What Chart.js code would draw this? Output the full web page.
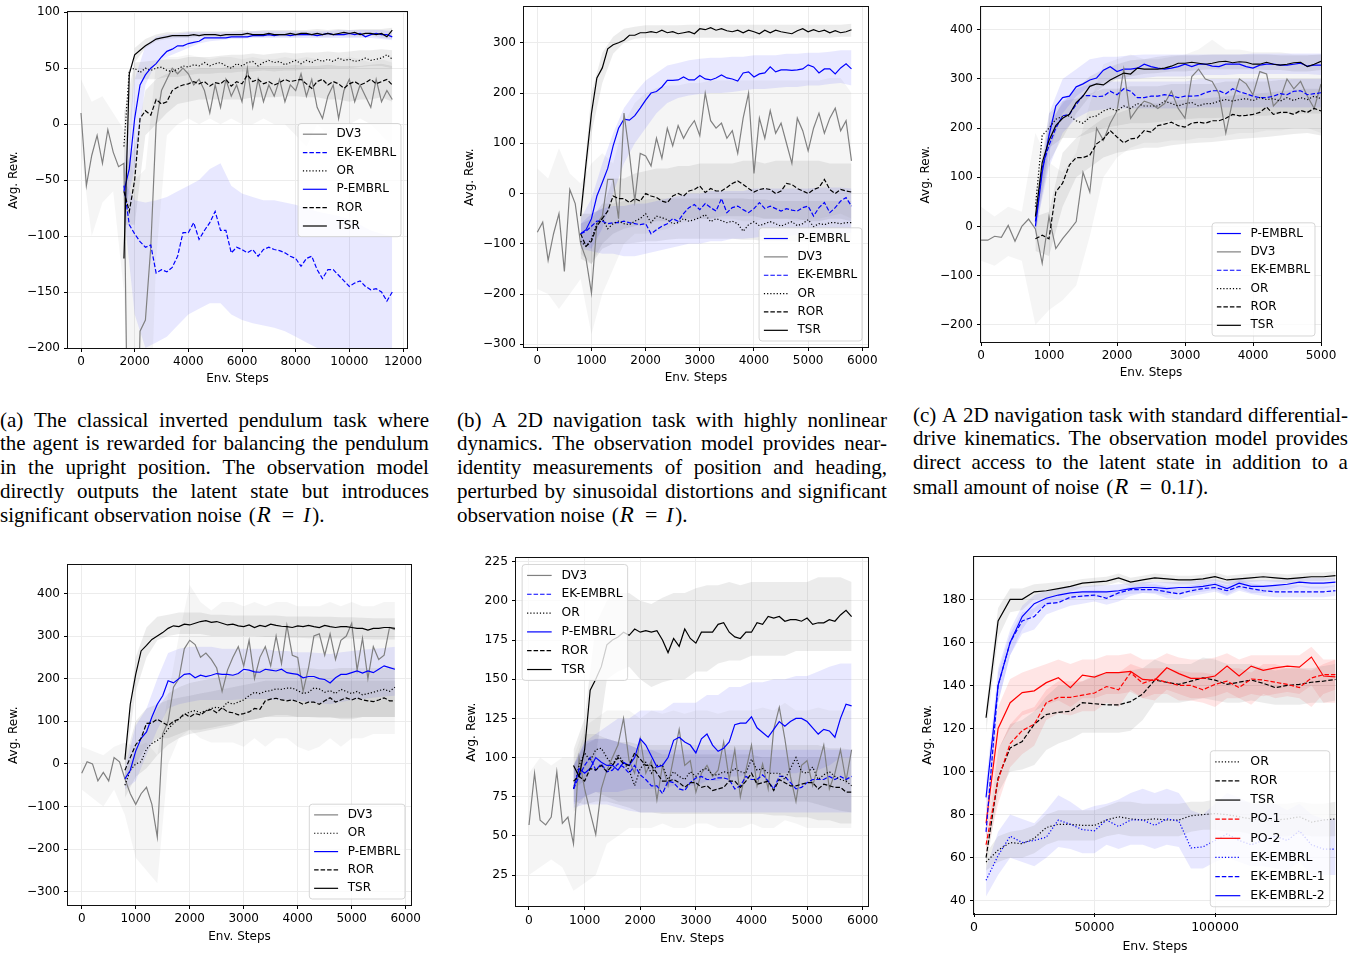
<!DOCTYPE html>
<html>
<head>
<meta charset="utf-8">
<script src="https://cdn.jsdelivr.net/npm/chart.js@4.4.1/dist/chart.umd.min.js"></script>
<style>
  html, body { margin: 0; padding: 0; background: #fff; overflow: hidden; }
  body { width: 1351px; height: 954px; position: relative; }
  canvas { position: absolute; }
  .cap { position: absolute; font-family: "Liberation Serif", "Times New Roman", serif; font-size: 21px; color: #000; }
  .cap div { height: 23.7px; line-height: 23.7px; white-space: nowrap; }
  .cap .just { display: flex; justify-content: space-between; }
  .m { font-size: 21px; margin-left: 2px; }
  .m i.r { font-size: 23px; margin: 0 1px 0 1px; }
  .m .eq { font-size: 22px; margin: 0 9px 0 10px; }
  .m i.i { margin-right: 2px; }
</style>
</head>
<body>
<script>
// ---------- x grids ----------
const aSteps = [0,200,400,600,800,1000,1200,1400,1600,1800,2000,2200,2400,2600,2800,3000,3200,3400,3600,3800,4000,4200,4400,4600,4800,5000,5200,5400,5600,5800,6000,6200,6400,6600,6800,7000,7200,7400,7600,7800,8000,8200,8400,8600,8800,9000,9200,9400,9600,9800,10000,10200,10400,10600,10800,11000,11200,11400,11600];
const aBandSteps = [0,400,800,1200,1600,2000,2400,2800,3200,3600,4000,4400,4800,5200,5600,6000,6400,6800,7200,7600,8000,8400,8800,9200,9600,10000,10400,10800,11200,11600];
const steps100 = [0,100,200,300,400,500,600,700,800,900,1000,1100,1200,1300,1400,1500,1600,1700,1800,1900,2000,2100,2200,2300,2400,2500,2600,2700,2800,2900,3000,3100,3200,3300,3400,3500,3600,3700,3800,3900,4000,4100,4200,4300,4400,4500,4600,4700,4800,4900,5000,5100,5200,5300,5400,5500,5600,5700,5800];
const steps200 = [0,200,400,600,800,1000,1200,1400,1600,1800,2000,2200,2400,2600,2800,3000,3200,3400,3600,3800,4000,4200,4400,4600,4800,5000,5200,5400,5600,5800];
const fSteps = [5000,10000,15000,20000,25000,30000,35000,40000,45000,50000,55000,60000,65000,70000,75000,80000,85000,90000,95000,100000,105000,110000,115000,120000,125000,130000,135000,140000,145000,150000];

// ---------- tick labels ----------
const aTicksX = [0, 2000, 4000, 6000, 8000, 10000, 12000];
const aTicksY = [-200, -150, -100, -50, 0, 50, 100];
const bTicksX = [0, 1000, 2000, 3000, 4000, 5000, 6000];
const bTicksY = [-300, -200, -100, 0, 100, 200, 300];
const cTicksX = [0, 1000, 2000, 3000, 4000, 5000];
const cTicksY = [-200, -100, 0, 100, 200, 300, 400];
const dTicksY = [-300, -200, -100, 0, 100, 200, 300, 400];
const eTicksY = [25, 50, 75, 100, 125, 150, 175, 200, 225];
const fTicksX = [0, 50000, 100000];
const fTicksY = [40, 60, 80, 100, 120, 140, 160, 180];

// ---------- (a) inverted pendulum ----------
const aDV3 = [10,-55,-28,-10,-35,-5,-25,-38,-35,-400,-400,-185,-175,-110,0,30,40,50,45,50,45,35,40,30,10,35,15,40,25,35,20,50,15,40,20,35,25,40,20,35,30,45,25,40,15,5,25,35,5,30,40,20,35,25,15,40,20,30,22];
const aOR = [null,null,null,null,null,null,null,null,-20,48,50,46,50,48,50,51,48,47,49,52,51,53,52,55,52,54,55,52,50,54,52,55,56,52,55,57,55,56,53,55,57,54,57,55,58,56,58,56,59,57,58,56,57,59,57,58,59,62,58];
const aROR = [null,null,null,null,null,null,null,null,-60,-78,-50,5,12,8,22,18,20,30,33,35,36,38,36,38,34,37,36,40,34,38,36,44,38,40,36,38,35,37,40,38,39,40,36,32,38,40,35,38,36,32,36,38,35,37,40,36,38,40,35];
const aTSR = [null,null,null,null,null,null,null,null,-120,45,62,66,70,73,76,77,78,79,79,79,79,80,79,80,80,80,79,80,80,80,80,81,80,80,80,81,80,80,80,81,80,81,81,80,81,80,81,80,81,82,81,82,80,81,81,80,81,78,84];
const aP = [null,null,null,null,null,null,null,null,-60,-40,5,35,44,50,54,60,65,67,70,70,72,73,74,77,77,77,77,77,78,78,78,78,79,79,79,80,79,80,80,79,80,80,80,80,79,80,81,80,80,80,81,80,81,78,80,81,80,80,78];
const aEK = [null,null,null,null,null,null,null,null,-55,-90,-98,-105,-110,-108,-133,-130,-132,-128,-118,-97,-97,-88,-103,-95,-88,-78,-95,-95,-115,-110,-112,-115,-112,-118,-112,-110,-112,-113,-115,-118,-120,-127,-120,-118,-130,-138,-130,-130,-135,-140,-145,-142,-140,-145,-148,-147,-150,-158,-150];
const aDV3Hi = [40,20,25,10,-5,-50,-40,55,60,60,62,60,58,60,60,58,60,58,58,60,58,60,58,55,58,60,58,55,58,55];
const aDV3Lo = [-25,-100,-70,-60,-150,-400,-400,-120,-10,0,5,0,5,0,5,0,0,5,0,0,-10,-20,0,-10,-5,0,5,0,-10,-20];
const aORHi = [null,null,null,null,10,55,56,57,58,58,60,60,60,61,62,62,63,62,63,64,63,64,64,65,64,65,66,66,67,66];
const aORLo = [null,null,null,null,-50,40,40,40,42,42,44,45,45,46,46,47,47,48,47,48,48,49,49,50,50,50,51,52,52,50];
const aRORHi = [null,null,null,null,-40,-20,30,40,45,48,48,50,50,50,52,52,52,52,52,52,53,52,52,53,52,52,52,53,54,52];
const aRORLo = [null,null,null,null,-90,-90,-10,0,10,18,20,22,22,22,22,22,24,24,24,25,25,24,24,22,22,20,22,22,24,20];
const aTSRHi = [null,null,null,null,-110,68,76,80,82,82,83,83,83,83,83,84,83,84,84,84,84,84,85,84,85,84,85,85,85,86];
const aTSRLo = [null,null,null,null,-130,55,68,74,76,77,77,78,78,78,78,78,78,78,78,78,78,79,78,78,79,78,78,79,77,76];
const aPHi = [null,null,null,null,-40,40,70,78,80,81,82,82,82,82,82,82,83,83,83,83,83,83,83,83,84,84,84,84,84,83];
const aPLo = [null,null,null,null,-80,-40,35,55,60,64,68,72,74,75,76,76,77,77,77,77,77,77,77,77,77,77,77,77,76,75];
const aEKHi = [null,null,null,null,-50,-68,-70,-68,-65,-60,-55,-50,-40,-35,-55,-62,-65,-68,-68,-70,-72,-75,-78,-80,-82,-85,-90,-95,-98,-100];
const aEKLo = [null,null,null,null,-80,-170,-200,-195,-190,-180,-170,-165,-160,-160,-170,-175,-178,-180,-182,-185,-190,-195,-200,-205,-210,-212,-215,-218,-220,-220];

// ---------- (b) nonlinear navigation ----------
const bDV3 = [-77,-57,-133,-80,-40,-155,8,-20,-100,-130,-198,-60,-45,28,28,-50,160,80,-15,80,75,55,110,70,130,95,135,110,130,145,115,200,145,130,140,110,125,80,150,200,40,150,110,165,120,140,100,60,150,125,85,130,160,120,150,170,125,145,65];
const bOR = [null,null,null,null,null,null,null,null,-95,-105,-90,-60,-50,-70,-60,-55,-60,-62,-55,-50,-40,-58,-45,-48,-52,-60,-58,-50,-55,-52,-48,-42,-56,-50,-54,-58,-55,-60,-75,-62,-56,-64,-60,-56,-60,-65,-60,-56,-64,-60,-52,-66,-60,-62,-58,-58,-60,-58,-58];
const bROR = [null,null,null,null,null,null,null,null,-80,-105,-95,-65,-50,-35,-5,-10,-10,-18,-10,-15,0,-5,-8,-15,-18,-5,0,-5,5,8,15,2,10,5,5,12,20,25,18,10,3,8,10,8,0,5,20,18,10,5,0,8,12,28,8,0,8,5,3];
const bEK = [null,null,null,null,null,null,null,null,-80,-75,-65,-55,-55,-60,-58,-58,-55,-58,-60,-62,-60,-80,-72,-65,-60,-50,-55,-40,-28,-22,-32,-20,-28,-35,-10,-38,-28,-25,-32,-38,-30,-18,-30,-25,-30,-35,-30,-33,-35,-28,-25,-45,-28,-18,-38,-28,-15,-8,-25];
const bP = [null,null,null,null,null,null,null,null,-80,-72,-50,-5,22,50,95,130,148,146,155,170,186,200,203,212,225,225,226,232,226,226,235,228,226,230,236,230,228,224,240,242,232,238,240,252,242,246,246,245,246,248,256,252,240,248,248,238,250,258,248];
const bTSR = [null,null,null,null,null,null,null,null,-45,60,160,230,250,288,296,300,305,315,315,320,320,322,320,325,320,322,318,320,322,318,328,326,330,325,328,324,322,325,320,325,322,318,325,320,325,322,320,318,324,328,322,326,322,325,320,324,320,322,326];
const bDV3Hi = [50,30,90,40,20,60,80,60,140,180,200,210,215,215,220,220,225,225,225,225,225,225,225,225,225,225,225,230,230,200];
const bDV3Lo = [-190,-200,-230,-200,-170,-280,-200,-150,-100,-80,-80,-75,-70,-60,-55,-50,-50,-50,-50,-55,-55,-50,-50,-50,-55,-50,-50,-45,-40,-50];
const bORHi = [null,null,null,null,-60,-50,-20,-20,-15,-15,-12,-10,-10,-10,-10,-10,-10,-10,-10,-10,-12,-12,-15,-15,-15,-15,-15,-15,-15,-15];
const bORLo = [null,null,null,null,-130,-140,-110,-100,-100,-98,-95,-95,-92,-90,-90,-90,-90,-90,-90,-92,-92,-95,-95,-95,-95,-95,-95,-95,-95,-95];
const bRORHi = [null,null,null,null,-40,-40,-30,30,30,40,45,50,50,55,55,60,60,60,60,65,65,60,65,65,65,65,65,60,60,60];
const bRORLo = [null,null,null,null,-120,-140,-100,-80,-70,-65,-60,-55,-55,-50,-50,-50,-50,-45,-45,-45,-45,-50,-50,-50,-50,-55,-55,-50,-50,-55];
const bEKHi = [null,null,null,null,-60,-40,-30,-25,-25,-20,-20,-15,-10,-5,0,0,5,5,5,5,10,10,10,10,10,10,12,12,12,10];
const bEKLo = [null,null,null,null,-110,-115,-120,-120,-125,-125,-120,-115,-110,-105,-100,-100,-95,-95,-90,-90,-88,-85,-85,-85,-82,-80,-80,-80,-80,-78];
const bPHi = [null,null,null,null,-50,-10,60,120,170,200,225,240,255,260,265,268,270,270,272,272,275,275,275,278,278,280,280,282,285,285];
const bPLo = [null,null,null,null,-100,-110,-70,0,60,100,130,160,180,190,195,198,200,200,202,205,208,208,210,212,212,215,215,218,220,215];
const bTSRHi = [null,null,null,null,-30,200,280,312,328,332,335,335,335,335,336,336,336,336,336,336,336,336,336,336,336,336,336,336,336,338];
const bTSRLo = [null,null,null,null,-60,120,220,278,300,308,310,310,310,310,310,310,310,310,310,310,308,310,310,310,310,310,310,310,312,312];

// ---------- (c) differential drive ----------
const cDV3 = [-28,-28,-20,-22,2,-30,0,15,-5,-75,20,-45,-25,-8,10,110,70,200,175,210,235,320,220,240,255,250,240,250,275,240,220,305,320,300,295,270,190,255,300,290,268,315,310,245,260,300,280,295,265,240,290];
const cOR = [null,null,null,null,null,null,null,null,40,185,200,218,224,225,215,210,222,225,235,240,235,245,240,250,245,245,245,255,250,245,250,252,245,250,250,255,258,255,258,260,256,262,258,260,255,262,256,262,258,265,260];
const cROR = [null,null,null,null,null,null,null,null,-25,-18,-25,70,88,125,140,140,145,168,178,195,182,170,178,180,195,192,205,208,212,205,202,210,212,210,215,215,220,228,225,226,228,232,243,228,232,232,228,236,232,240,235];
const cEK = [null,null,null,null,null,null,null,null,10,120,165,200,225,228,248,266,266,264,265,275,268,280,275,262,262,265,265,268,266,262,265,265,266,272,276,276,270,280,274,270,265,262,262,265,270,268,275,276,268,270,272];
const cP = [null,null,null,null,null,null,null,null,0,110,185,245,262,265,284,290,298,302,318,325,315,320,320,322,330,325,322,320,322,325,330,325,330,330,326,325,330,330,330,325,322,328,330,330,328,328,330,332,326,328,328];
const cTSR = [null,null,null,null,null,null,null,null,20,130,175,205,220,228,252,265,285,290,288,298,305,312,310,322,320,320,320,322,326,332,332,334,332,330,332,335,336,333,335,334,330,330,334,330,328,330,333,334,325,330,336];
const cDV3Hi = [40,20,40,30,190,130,110,150,250,330,340,350,340,340,345,350,360,380,360,360,355,355,355,350,350,350];
const cDV3Lo = [-70,-80,-60,-70,-200,-170,-150,-120,-20,100,140,160,170,170,175,175,180,180,185,190,190,195,195,200,200,190];
const cORHi = [null,null,null,null,60,230,255,260,270,280,280,285,285,285,290,290,290,290,295,295,295,295,298,300,300,300];
const cORLo = [null,null,null,null,0,160,180,180,190,200,205,210,210,212,215,218,220,220,222,225,225,225,228,230,230,230];
const cRORHi = [null,null,null,null,20,30,150,180,200,220,230,240,250,250,255,258,260,262,265,268,270,272,275,278,280,280];
const cRORLo = [null,null,null,null,-50,-60,40,100,120,140,150,155,160,160,165,168,170,172,175,178,180,182,185,188,190,185];
const cEKHi = [null,null,null,null,30,200,255,280,290,295,295,295,295,295,295,295,300,300,300,300,300,300,300,300,300,300];
const cEKLo = [null,null,null,null,-10,120,190,220,235,238,240,240,240,240,240,240,242,242,242,242,242,242,242,242,242,242];
const cPHi = [null,null,null,null,20,230,300,320,340,345,345,348,350,350,350,350,350,350,350,350,352,352,352,352,352,352];
const cPLo = [null,null,null,null,-20,150,230,265,285,295,300,300,302,305,305,305,308,308,308,310,310,310,310,310,310,308];
const cTSRHi = [null,null,null,null,40,210,250,280,305,320,330,338,340,345,348,348,348,350,350,350,350,350,348,348,348,350];
const cTSRLo = [null,null,null,null,0,130,180,230,265,285,300,305,310,312,315,315,318,320,320,320,320,318,318,315,315,318];

// ---------- (d) ----------
const dDV3 = [-22,5,0,-40,-20,-40,15,5,-35,-70,-95,-70,-55,-95,-172,70,100,180,200,270,290,280,250,260,245,225,170,220,250,275,230,290,200,250,275,230,300,235,325,255,250,170,225,300,305,255,305,245,290,300,330,220,295,200,275,245,255,320,315];
const dOR = [null,null,null,null,null,null,null,null,-50,-15,0,5,35,48,55,65,82,95,105,115,122,125,120,125,130,133,130,145,140,145,150,160,168,165,170,172,176,175,178,178,172,165,168,178,176,168,172,165,175,170,165,170,162,165,168,172,175,170,180];
const dROR = [null,null,null,null,null,null,null,null,-15,15,45,60,95,96,105,97,90,100,105,118,110,118,115,124,128,120,132,122,120,115,118,122,130,128,148,152,154,150,148,150,146,140,145,145,140,148,155,145,150,155,150,155,150,148,146,150,155,148,148];
const dP = [null,null,null,null,null,null,null,null,-35,-15,30,60,75,110,140,160,195,190,200,210,212,202,208,205,208,212,210,210,208,212,222,220,216,215,222,220,218,222,214,212,210,202,205,205,200,198,190,202,210,210,214,218,213,218,214,222,230,226,222];
const dTSR = [null,null,null,null,null,null,null,null,10,140,210,265,278,292,300,308,318,324,322,328,326,330,334,336,332,334,330,326,328,324,322,326,320,325,322,328,325,323,322,320,324,322,325,322,320,325,322,320,322,322,320,318,318,314,318,318,320,320,318];
const dDV3Hi = [40,30,20,40,50,40,50,20,160,300,420,380,360,380,380,370,380,370,380,380,370,370,370,380,370,380,370,370,380,380];
const dDV3Lo = [-60,-80,-100,-60,-120,-220,-250,-280,0,60,80,60,50,50,50,40,60,40,60,60,40,30,40,60,40,60,60,70,70,70];
const dORHi = [null,null,null,null,-20,30,80,130,165,180,190,195,200,205,210,215,220,225,225,225,225,225,222,222,225,225,225,225,225,228];
const dORLo = [null,null,null,null,-80,-30,-10,20,45,60,70,75,80,85,90,100,105,110,115,115,110,110,110,110,105,105,110,110,110,110];
const dRORHi = [null,null,null,null,10,100,130,140,150,155,160,165,170,175,180,185,190,195,195,195,195,195,195,195,195,195,195,195,195,195];
const dRORLo = [null,null,null,null,-40,0,40,60,60,70,80,80,85,90,95,100,105,110,110,110,110,110,108,108,108,108,110,110,110,110];
const dPHi = [null,null,null,null,-10,90,130,200,260,270,275,275,275,270,270,270,270,270,265,265,262,262,260,258,262,265,268,270,272,275];
const dPLo = [null,null,null,null,-60,-40,20,80,130,140,145,150,150,150,150,152,152,152,150,150,148,145,142,140,145,150,152,155,158,160];
const dTSRHi = [null,null,null,null,30,250,320,345,350,355,355,355,350,350,348,348,348,348,348,346,346,346,345,345,344,344,343,342,342,342];
const dTSRLo = [null,null,null,null,-10,170,250,290,300,305,305,305,300,300,300,300,300,298,298,296,296,295,295,295,294,294,293,292,292,292];

// ---------- (e) ----------
const eDV3 = [57,90,60,57,62,91,58,62,45,100,80,65,51,80,92,100,108,125,98,90,112,90,98,73,95,82,100,118,95,98,78,90,95,88,92,110,86,105,75,92,108,82,96,80,118,132,112,88,72,95,98,82,95,108,80,90,105,85,105];
const eEK = [null,null,null,null,null,null,null,null,80,88,95,100,92,96,91,92,96,94,90,95,89,86,82,82,77,85,84,80,79,84,87,88,86,86,87,87,86,80,82,88,86,86,89,85,80,88,88,84,80,81,84,86,86,86,88,86,88,86,88];
const eOR = [null,null,null,null,null,null,null,null,80,95,103,98,105,106,100,95,102,97,92,82,93,97,90,95,95,86,91,88,86,91,88,92,93,89,89,91,90,93,91,90,99,92,93,90,90,90,86,93,100,91,90,94,86,89,91,88,86,85,82];
const eP = [null,null,null,null,null,null,null,null,80,93,90,93,100,97,95,95,92,97,95,100,112,108,101,94,95,100,111,113,110,108,103,112,115,108,104,106,110,121,122,122,126,119,116,113,118,123,120,123,125,125,123,119,115,118,117,113,125,134,133];
const eROR = [null,null,null,null,null,null,null,null,85,88,85,93,92,95,91,95,100,96,95,103,99,95,95,90,85,85,86,84,81,84,84,81,82,79,80,81,85,85,81,85,90,83,84,85,79,86,84,82,82,83,84,84,80,83,82,81,81,78,78];
const eTSR = [null,null,null,null,null,null,null,null,95,88,105,143,150,158,172,175,177,180,178,182,180,181,180,181,175,167,176,171,182,176,173,180,180,180,185,186,180,177,176,180,180,186,185,190,189,190,187,188,188,187,189,185,186,186,188,187,191,194,190];
const eDV3Hi = [90,100,95,100,100,120,125,130,130,130,125,130,128,130,128,130,130,128,130,130,130,132,130,135,130,130,132,130,130,130];
const eDV3Lo = [25,30,35,30,15,20,25,45,50,55,55,55,58,55,55,58,58,55,55,55,58,55,55,60,58,55,55,55,55,55];
const eEKHi = [null,null,null,null,95,110,112,112,110,108,105,105,105,105,105,105,105,105,105,105,105,105,105,105,105,105,105,105,105,105];
const eEKLo = [null,null,null,null,68,70,70,70,68,66,65,65,65,65,65,65,65,65,65,65,65,65,65,65,65,65,65,65,65,65];
const eORHi = [null,null,null,null,95,115,115,112,110,110,108,108,108,108,108,108,108,108,108,108,108,108,108,108,108,108,108,106,106,105];
const eORLo = [null,null,null,null,65,75,78,75,72,72,72,72,72,72,72,72,72,72,72,72,72,72,72,72,72,72,70,68,66,65];
const ePHi = [null,null,null,null,95,110,115,120,125,125,130,130,130,135,135,135,140,140,145,145,148,148,150,150,152,152,155,158,160,160];
const ePLo = [null,null,null,null,70,75,78,78,78,80,80,80,80,82,82,82,85,85,88,88,90,90,90,90,90,92,92,95,100,100];
const eRORHi = [null,null,null,null,95,108,112,112,110,108,105,105,102,102,102,102,102,102,102,102,102,100,100,100,100,100,100,100,100,100];
const eRORLo = [null,null,null,null,72,70,72,72,70,68,65,65,64,64,64,64,64,64,64,64,64,64,63,63,62,62,60,60,58,58];
const eTSRHi = [null,null,null,null,105,125,185,200,205,205,200,198,202,205,205,208,210,210,212,210,212,212,212,212,212,212,215,215,215,212];
const eTSRLo = [null,null,null,null,80,85,100,150,155,158,150,145,148,150,150,155,155,160,162,162,165,165,165,165,168,168,168,168,168,168];

// ---------- (f) ----------
const fOR = [58,63.5,67,66.5,69,74,75.5,75.5,75,75,77.5,79,78,77.5,78,77.5,77.5,79.5,80,80.5,80,79,78,77.5,77.5,78,79,76.5,77.5,78];
const fROR = [60,97,111,114,122,126.5,127.5,128,132,131.5,131,131,132.5,136,142.5,141.5,140.5,142,143.5,142.5,140.5,141.5,142.5,141,139,140,140.5,141.5,142,142.8];
const fTSR = [125,170,180,180,183.5,184,185,186,187.5,188,188.5,190,188,189,190,189.5,189,189,189.5,190.5,189,189.5,190,190.5,190,189.5,190,190.5,190.5,191];
const fPO1 = [66,96,113,119,122,132,134.5,134.5,135.5,136.5,139.5,138,146,141,143,141.5,140,140,138,140.5,142,139,143,142.5,141.5,140.5,139,143.5,145,145];
const fPO2 = [76,120,132,136.7,137.5,141.3,143.6,139,144.8,143.9,146,146,146.5,142.8,142.4,148.2,145.5,143.3,143.3,144.4,149,144.4,149,147,148.2,149,148.5,153.2,144.4,144];
const fEK = [49.5,61,70,67,68,69.5,77.5,75.5,73,72.5,77.5,74.5,77.5,77.5,75,78,77,64.5,65,68,71,68,66,68,70,68,72.5,66,64,64];
const fEK1 = [72,140,160,170,172,178,178.5,181,181.5,182,180.5,183,184.5,184.5,184.5,183.5,182.5,184,185,185.5,184,186,185,184,183.5,183.5,183.5,183.5,183.5,184];
const fEK2 = [88,140,160,172,178,180.5,182,183,183.5,183.5,183.5,184,185,185.5,185.5,185,185.5,185.5,186,187,185,187.5,186,186,186.5,187,188,187.5,187.5,188];
const fORHi = [62,70,72,73,75,80,82,82,82,82,84,86,86,85,85,85,85,86,86,87,86,86,86,86,85,85,86,85,85,86];
const fORLo = [54,58,60,60,62,66,68,68,68,68,70,71,70,70,70,70,70,72,73,73,72,72,71,70,70,70,71,70,70,70];
const fRORHi = [65,110,122,124,128,135,140,140,142,145,146,146,147,148,152,150,150,150,153,152,150,150,150,148,147,148,148,148,149,150];
const fRORLo = [55,90,100,101,103,110,113,115,118,118,118,118,119,124,132,132,132,133,134,133,132,132,133,132,131,131,131,132,132,133];
const fTSRHi = [130,176,185,185,187,187.5,188,188.5,189.5,190,190.5,192,190,191,192,191.5,191,191,191.5,192.5,191,191.5,192,192.5,192,191.5,192,192.5,192.5,193];
const fTSRLo = [118,162,174,175,180,180.5,182,183.5,185.5,186,186.5,188,186,187,188,187.5,187,187,187.5,188.5,187,187.5,188,188.5,188,187.5,188,188.5,188.5,189];
const fPO1Hi = [72,110,122,128,130,138,142,142,142,144,146,146,150,148,148,148,147,146,146,145,148,148,146,150,150,148,148,147,150,152];
const fPO1Lo = [60,85,102,108,112,124,127,126,128,128,132,130,138,134,136,136,133,133,132,130,134,134,131,136,134,135,134,130,136,138];
const fPO2Hi = [82,130,143,146,148,150,152,150,152,152,154,154,155,152,152,155,153,152,152,153,155,152,154,154,154,154,154,158,152,152];
const fPO2Lo = [70,110,120,126,128,131,133,130,134,134,136,136,137,134,133,138,136,134,134,135,137,134,136,135,136,137,136,140,132,132];
const fEKHi = [55,72,80,78,76,82,89,86,82,84,85,87,90,92,90,92,90,82,80,85,90,88,85,85,85,82,85,80,78,78];
const fEKLo = [42,52,60,58,56,60,65,64,62,62,66,64,66,66,64,66,65,55,55,58,60,58,56,56,55,54,58,52,52,52];
const fEK1Hi = [78,146,164,174,176,181,182,183,184,184.5,184,184.5,186,187,187,186,185,186.5,187.5,188,186.5,189,187.5,186.5,186.5,186.5,186.5,186,186,186.5];
const fEK1Lo = [66,132,154,164,166,173,175,177,178,179,177.5,179,181.5,183,182.5,180.5,180,181.5,182.5,183.5,181.5,184,182.5,181.5,181,181,181,181,181,181.5];
const fEK2Hi = [95,148,166,177,182,184,185,186,186,186.5,186.5,187,187.5,188,188,188,188,188.5,189,189.5,188,190,189,189,189,189.5,190,190,190,190];
const fEK2Lo = [80,132,154,166,174,177,179,180,181,181,181,181.5,182.5,183,183,182,183,183,183.5,184.5,182,185,183,183,184,184.5,186,185,185,186];

// ---------- captions ----------
const capA = [
  "(a) The classical inverted pendulum task where",
  "the agent is rewarded for balancing the pendulum",
  "in the upright position. The observation model",
  "directly outputs the latent state but introduces",
  'significant observation noise <span class="m">(<i class="r">R</i><span class="eq">=</span><i class="i">I</i>)</span>.'
];
const capB = [
  "(b) A 2D navigation task with highly nonlinear",
  "dynamics. The observation model provides near-",
  "identity measurements of position and heading,",
  "perturbed by sinusoidal distortions and significant",
  'observation noise <span class="m">(<i class="r">R</i><span class="eq">=</span><i class="i">I</i>)</span>.'
];
const capC = [
  "(c) A 2D navigation task with standard differential-",
  "drive kinematics. The observation model provides",
  "direct access to the latent state in addition to a",
  'small amount of noise <span class="m">(<i class="r">R</i><span class="eq">=</span>0.1<i class="i">I</i>)</span>.'
];

const FONT = '"DejaVu Sans", sans-serif';
const SOLID = [], DASH = [4.5, 2], DOT = [1.2, 2];
const LIGHT_BAND = 'rgba(128,128,128,0.08)';
const GRAY_BAND = 'rgba(128,128,128,0.15)';
const BLUE_BAND = 'rgba(0,0,255,0.09)';
const RED_BAND = 'rgba(255,0,0,0.1)';

const STYLE = {
  'DV3': ['gray', SOLID, LIGHT_BAND],
  'EK-EMBRL': ['blue', DASH, BLUE_BAND],
  'OR': ['black', DOT, GRAY_BAND],
  'P-EMBRL': ['blue', SOLID, BLUE_BAND],
  'ROR': ['black', DASH, GRAY_BAND],
  'TSR': ['black', SOLID, GRAY_BAND],
  'PO-1': ['red', DASH, RED_BAND],
  'PO-2': ['red', SOLID, RED_BAND],
  'EK-EMBRL-1': ['blue', DASH, BLUE_BAND],
  'EK-EMBRL-2': ['blue', SOLID, BLUE_BAND]
};

const panels = [
  { rect: [68, 11, 407, 348], yW: 61, xH: 38, padR: 20, fs: 12,
    xr: [-484.5, 12149], yr: [-200, 100], xt: aTicksX, yt: aTicksY,
    steps: aSteps, bsteps: aBandSteps, loc: 'center right',
    series: [['DV3', aDV3, aDV3Lo, aDV3Hi], ['EK-EMBRL', aEK, aEKLo, aEKHi], ['OR', aOR, aORLo, aORHi],
             ['P-EMBRL', aP, aPLo, aPHi], ['ROR', aROR, aRORLo, aRORHi], ['TSR', aTSR, aTSRLo, aTSRHi]] },
  { rect: [524, 6, 868, 347], yW: 61, xH: 38, padR: 20, fs: 12,
    xr: [-245.5, 6105], yr: [-305.4, 370.8], xt: bTicksX, yt: bTicksY,
    steps: steps100, bsteps: steps200, loc: 'lower right',
    series: [['P-EMBRL', bP, bPLo, bPHi], ['DV3', bDV3, bDV3Lo, bDV3Hi], ['EK-EMBRL', bEK, bEKLo, bEKHi],
             ['OR', bOR, bORLo, bORHi], ['ROR', bROR, bRORLo, bRORHi], ['TSR', bTSR, bTSRLo, bTSRHi]] },
  { rect: [981, 6, 1321, 342], yW: 62, xH: 38, padR: 20, fs: 12,
    xr: [0, 5000], yr: [-235.1, 446], xt: cTicksX, yt: cTicksY,
    steps: steps100, bsteps: steps200, loc: 'lower right',
    series: [['P-EMBRL', cP, cPLo, cPHi], ['DV3', cDV3, cDV3Lo, cDV3Hi], ['EK-EMBRL', cEK, cEKLo, cEKHi],
             ['OR', cOR, cORLo, cORHi], ['ROR', cROR, cRORLo, cRORHi], ['TSR', cTSR, cTSRLo, cTSRHi]] },
  { rect: [68, 564, 411, 905], yW: 61, xH: 39, padR: 20, fs: 12,
    xr: [-253.7, 6098], yr: [-331.1, 466.2], xt: bTicksX, yt: dTicksY,
    steps: steps100, bsteps: steps200, loc: 'lower right',
    series: [['DV3', dDV3, dDV3Lo, dDV3Hi], ['OR', dOR, dORLo, dORHi], ['P-EMBRL', dP, dPLo, dPHi],
             ['ROR', dROR, dRORLo, dRORHi], ['TSR', dTSR, dTSRLo, dTSRHi]] },
  { rect: [516, 557, 868, 906], yW: 52, xH: 40, padR: 20, fs: 12.3,
    xr: [-233.7, 6095], yr: [5.3, 227.1], xt: bTicksX, yt: eTicksY,
    steps: steps100, bsteps: steps200, loc: 'upper left',
    series: [['DV3', eDV3, eDV3Lo, eDV3Hi], ['EK-EMBRL', eEK, eEKLo, eEKHi], ['OR', eOR, eORLo, eORHi],
             ['P-EMBRL', eP, ePLo, ePHi], ['ROR', eROR, eRORLo, eRORHi], ['TSR', eTSR, eTSRLo, eTSRHi]] },
  { rect: [974, 555, 1336, 913], yW: 54, xH: 41, padR: 14, fs: 12.5,
    xr: [0, 150200], yr: [34.3, 199.9], xt: fTicksX, yt: fTicksY,
    steps: fSteps, bsteps: fSteps, loc: 'lower right',
    override: { 'EK-EMBRL': ['blue', DOT, BLUE_BAND] },
    series: [['OR', fOR, fORLo, fORHi], ['ROR', fROR, fRORLo, fRORHi], ['TSR', fTSR, fTSRLo, fTSRHi],
             ['PO-1', fPO1, fPO1Lo, fPO1Hi], ['PO-2', fPO2, fPO2Lo, fPO2Hi], ['EK-EMBRL', fEK, fEKLo, fEKHi],
             ['EK-EMBRL-1', fEK1, fEK1Lo, fEK1Hi], ['EK-EMBRL-2', fEK2, fEK2Lo, fEK2Hi]] }
];

function pts(steps, vals) {
  return vals.map((y, i) => ({ x: steps[i], y: y }));
}

function fmt(v) {
  return v < 0 ? '\u2212' + Math.abs(v) : String(v);
}

// box around the plot area (all four spines)
const frame = {
  id: 'frame',
  afterDatasetsDraw(chart) {
    const ctx = chart.ctx, a = chart.chartArea;
    ctx.save();
    ctx.strokeStyle = '#111';
    ctx.lineWidth = 1;
    ctx.strokeRect(Math.round(a.left) - 0.5, Math.round(a.top) - 0.5,
                   Math.round(a.right - a.left) + 1, Math.round(a.bottom - a.top) + 1);
    ctx.restore();
  }
};

// matplotlib-like legend drawn inside the axes
const boxLegend = {
  id: 'boxLegend',
  afterDraw(chart, args, opts) {
    if (!opts.items) return;
    const ctx = chart.ctx, a = chart.chartArea, fs = opts.size;
    const sets = opts.items.map(l => chart.data.datasets.find(d => d.label === l));
    ctx.save();
    ctx.font = fs + 'px ' + FONT;
    const rowH = 1.53 * fs;
    const tw = Math.max(...sets.map(d => ctx.measureText(d.label).width));
    const w = 3.6 * fs + tw, h = sets.length * rowH + 3, m = 0.5 * fs;
    let x = a.right - m - w, y = a.bottom - m - h;
    if (opts.loc === 'upper left') { x = a.left + m; y = a.top + m; }
    if (opts.loc === 'center right') { y = (a.top + a.bottom - h) / 2; }
    ctx.beginPath();
    if (ctx.roundRect) ctx.roundRect(x, y, w, h, 3); else ctx.rect(x, y, w, h);
    ctx.fillStyle = 'rgba(255,255,255,0.8)';
    ctx.fill();
    ctx.strokeStyle = 'rgba(204,204,204,0.8)';
    ctx.lineWidth = 1;
    ctx.stroke();
    sets.forEach((d, i) => {
      const cy = y + 1.5 + rowH * (i + 0.5);
      ctx.beginPath();
      ctx.setLineDash(d.borderDash);
      ctx.strokeStyle = d.borderColor;
      ctx.lineWidth = d.borderWidth;
      ctx.moveTo(x + 0.4 * fs, cy);
      ctx.lineTo(x + 2.4 * fs, cy);
      ctx.stroke();
      ctx.setLineDash([]);
      ctx.fillStyle = '#000';
      ctx.textBaseline = 'middle';
      ctx.textAlign = 'left';
      ctx.fillText(d.label, x + 3.2 * fs, cy);
    });
    ctx.restore();
  }
};

function axis(range, ticks, title, fs, size, horizontal) {
  return {
    type: 'linear',
    min: range[0],
    max: range[1],
    afterBuildTicks: s => { s.ticks = ticks.map(v => ({ value: v })); },
    afterFit: s => { if (horizontal) s.height = size; else s.width = size; },
    grid: { color: '#ececec', lineWidth: 1, tickColor: '#000', tickLength: 4 },
    border: { display: false },
    ticks: { color: '#000', font: { family: FONT, size: fs }, padding: horizontal ? 3 : 4,
             callback: v => fmt(v), maxRotation: 0, autoSkip: false },
    title: { display: true, text: title, color: '#000', font: { family: FONT, size: fs }, padding: 0 }
  };
}

const padTop = 10;

panels.forEach(p => {
  const [L, T, R, B] = p.rect;
  const left = L - p.yW, top = T - padTop;
  const width = R + p.padR - left, height = B + p.xH - top;
  const cv = document.createElement('canvas');
  cv.width = width; cv.height = height;
  cv.style.left = left + 'px'; cv.style.top = top + 'px';
  cv.style.width = width + 'px'; cv.style.height = height + 'px';
  document.body.appendChild(cv);

  const n = p.series.length;
  const bands = [], lines = [];
  p.series.forEach(([label, vals, lo, hi], i) => {
    const st = (p.override && p.override[label]) || STYLE[label];
    bands.push({ data: pts(p.bsteps, lo), borderColor: 'transparent', borderWidth: 1, pointRadius: 0, fill: false, order: 100 + i });
    bands.push({ data: pts(p.bsteps, hi), borderColor: 'transparent', borderWidth: 1, pointRadius: 0, fill: '-1', backgroundColor: st[2], order: 100 + i });
    lines.push({ label: label, data: pts(p.steps, vals), borderColor: st[0], borderDash: st[1], borderWidth: 1.2,
                 pointRadius: 0, fill: false, order: n - i });
  });

  new Chart(cv, {
    type: 'line',
    data: { datasets: bands.concat(lines) },
    options: {
      responsive: false,
      animation: false,
      devicePixelRatio: 1,
      events: [],
      layout: { padding: { left: 0, top: padTop, right: p.padR, bottom: 0 } },
      elements: { line: { tension: 0 }, point: { radius: 0 } },
      plugins: {
        legend: { display: false },
        tooltip: { enabled: false },
        boxLegend: { loc: p.loc, items: p.series.map(s => s[0]), size: p.fs }
      },
      scales: {
        x: axis(p.xr, p.xt, 'Env. Steps', p.fs, p.xH, true),
        y: axis(p.yr, p.yt, 'Avg. Rew.', p.fs, p.yW, false)
      }
    },
    plugins: [frame, boxLegend]
  });
});

function caption(lines, left, top, width) {
  const box = document.createElement('div');
  box.className = 'cap';
  box.style.left = left + 'px';
  box.style.top = top + 'px';
  box.style.width = width + 'px';
  lines.forEach((ln, i) => {
    const d = document.createElement('div');
    if (i < lines.length - 1) {
      d.className = 'just';
      ln.split(' ').forEach(w => {
        const s = document.createElement('span');
        s.textContent = w;
        d.appendChild(s);
      });
    } else {
      d.innerHTML = ln;
    }
    box.appendChild(d);
  });
  document.body.appendChild(box);
}

caption(capA, 0, 408.5, 429);
caption(capB, 457, 408.5, 430);
caption(capC, 913, 403.5, 435);
</script>
</body>
</html>
